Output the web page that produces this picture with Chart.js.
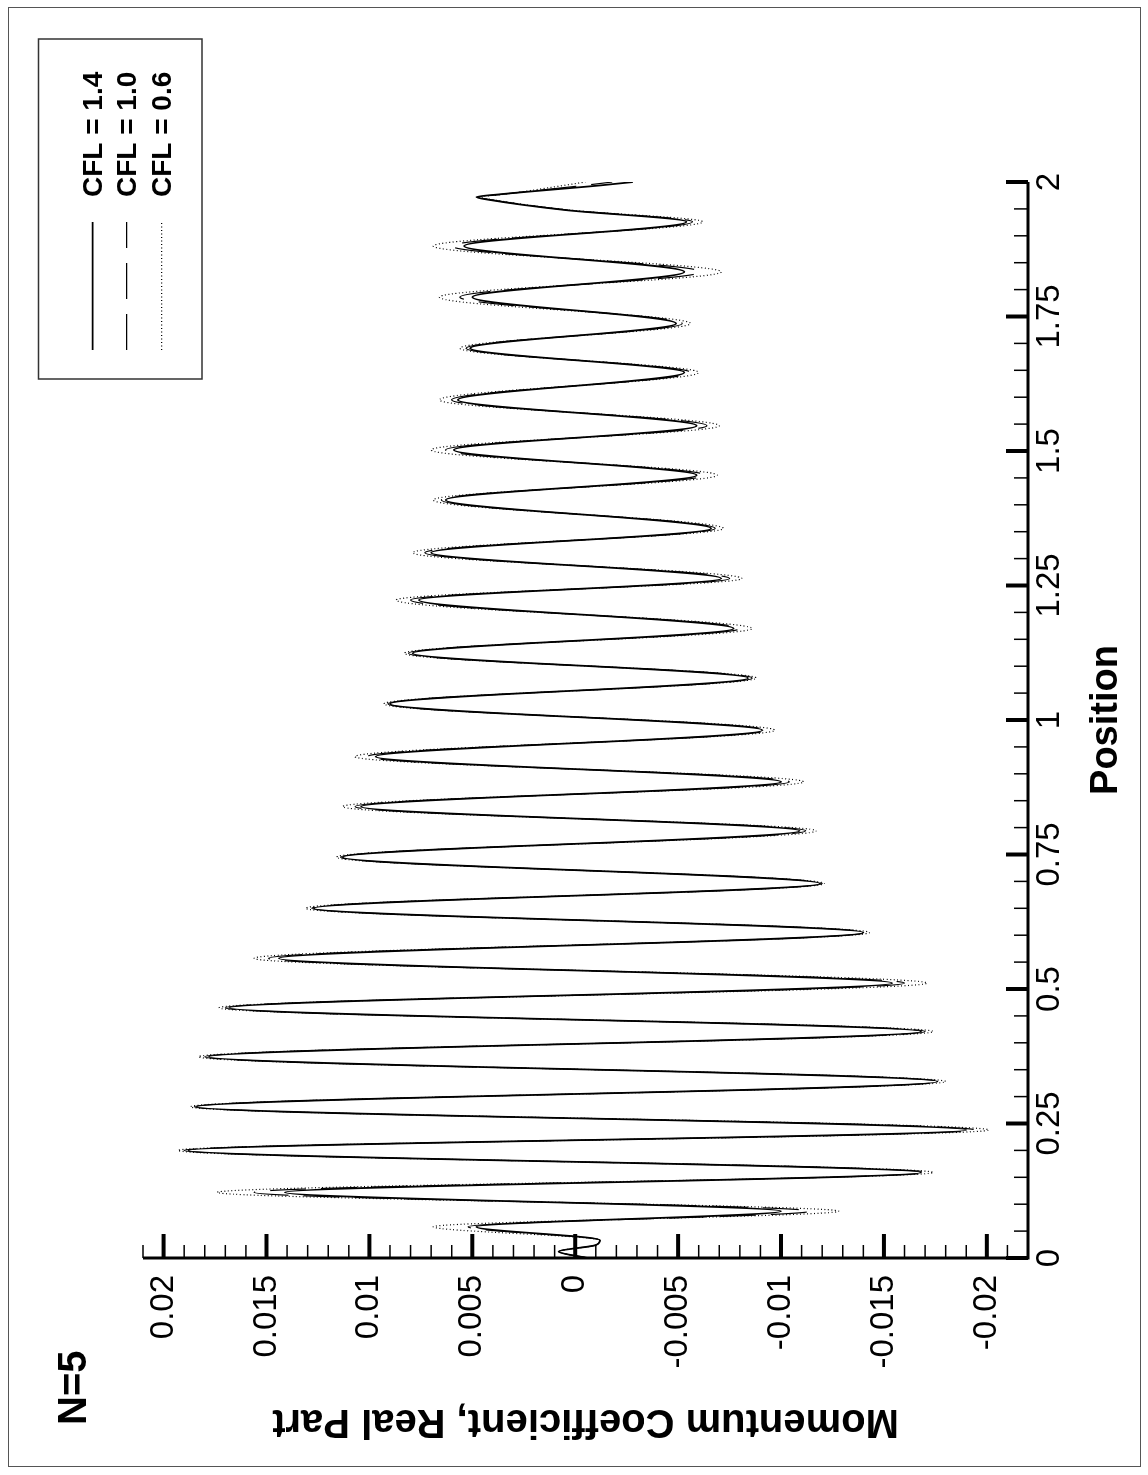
<!DOCTYPE html>
<html>
<head>
<meta charset="utf-8">
<title>N=5 momentum coefficient</title>
<script src="https://cdn.jsdelivr.net/npm/chart.js@4.4.1/dist/chart.umd.min.js"></script>
<style>
  html, body { margin: 0; padding: 0; background: #fff; overflow: hidden; }
  #page { position: relative; width: 1148px; height: 1475px; overflow: hidden; }
  /* the plot is laid out landscape and turned a quarter turn */
  #turn { position: absolute; left: 0; top: 0; width: 1475px; height: 1148px;
          transform-origin: 0 0; transform: translate(0, 1475px) rotate(-90deg); }
</style>
</head>
<body>
<div id="page"><div id="turn"><canvas id="momentumChart" width="1475" height="1148"></canvas></div></div>
<script>
// positions of the samples (peaks and troughs of the wave)
const positions = [0, 0.012, 0.024, 0.033, 0.058, 0.087, 0.122, 0.159, 0.200, 0.238,
  0.281, 0.328, 0.374, 0.421, 0.465, 0.511, 0.557, 0.605, 0.650, 0.696,
  0.745, 0.794, 0.839, 0.885, 0.932, 0.981, 1.030, 1.078, 1.124, 1.170,
  1.223, 1.263, 1.311, 1.356, 1.409, 1.455, 1.502, 1.547, 1.595, 1.646,
  1.691, 1.737, 1.786, 1.833, 1.881, 1.926, 1.948, 1.967, 1.972, 1.977,
  1.994, 2.000];

const cfl14 = [-0.0006, 0.0008, -0.0010, -0.0012, 0.0048, -0.0100, 0.0141, -0.0168, 0.0188, -0.0190,
  0.0184, -0.0176, 0.0178, -0.0168, 0.0168, -0.0154, 0.0144, -0.0140, 0.0127, -0.0119,
  0.0113, -0.0109, 0.0104, -0.0100, 0.0097, -0.0091, 0.0090, -0.0084, 0.0079, -0.0077,
  0.0076, -0.0071, 0.0070, -0.0066, 0.0063, -0.0059, 0.0059, -0.0059, 0.0057, -0.0053,
  0.0051, -0.0049, 0.0050, -0.0053, 0.0054, -0.0054, 0.0005, 0.0042, 0.0048, 0.0037,
  -0.0013, -0.0028];

const cfl10 = [-0.0006, 0.0008, -0.0010, -0.0012, 0.0052, -0.0114, 0.0156, -0.0171, 0.0190, -0.0194,
  0.0185, -0.0177, 0.0180, -0.0170, 0.0170, -0.0160, 0.0149, -0.0141, 0.0128, -0.0120,
  0.0114, -0.0112, 0.0107, -0.0104, 0.0101, -0.0093, 0.0091, -0.0086, 0.0081, -0.0080,
  0.0080, -0.0075, 0.0073, -0.0068, 0.0065, -0.0063, 0.0063, -0.0064, 0.0060, -0.0056,
  0.0053, -0.0052, 0.0056, -0.0061, 0.0060, -0.0057, 0.0004, 0.0041, 0.0047, 0.0036,
  -0.0005, -0.0018];

const cfl06 = [-0.0006, 0.0008, -0.0010, -0.0012, 0.0069, -0.0128, 0.0174, -0.0174, 0.0193, -0.0201,
  0.0187, -0.0180, 0.0183, -0.0174, 0.0173, -0.0171, 0.0156, -0.0143, 0.0131, -0.0121,
  0.0116, -0.0117, 0.0113, -0.0111, 0.0107, -0.0097, 0.0093, -0.0088, 0.0083, -0.0086,
  0.0087, -0.0081, 0.0079, -0.0072, 0.0069, -0.0069, 0.0070, -0.0070, 0.0066, -0.0060,
  0.0056, -0.0056, 0.0066, -0.0071, 0.0069, -0.0062, 0.0003, 0.0040, 0.0046, 0.0035,
  0.0005, -0.0005];

const seriesNames = ['CFL = 1.4', 'CFL = 1.0', 'CFL = 0.6'];

const posTicks = [0, 0.25, 0.5, 0.75, 1, 1.25, 1.5, 1.75, 2];
const posLabels = ['0', '0.25', '0.5', '0.75', '1', '1.25', '1.5', '1.75', '2'];
const valTicks = [-0.02, -0.015, -0.01, -0.005, 0, 0.005, 0.01, 0.015, 0.02];
const valLabels = ['-0.02', '-0.015', '-0.01', '-0.005', '0', '0.005', '0.01', '0.015', '0.02'];

const FONT = '"Liberation Sans", Arial, Helvetica, sans-serif';
const dashStyles = [[], [36, 15], [1, 2.5]];
const lineWidths = [1.8, 1.2, 1.2];

function toPoints(vals) {
  return positions.map((p, i) => ({ x: p, y: vals[i] }));
}

// axis lines, inward ticks, legend box, panel label and outer frame
const framePlugin = {
  id: 'framePlugin',
  afterDraw(chart) {
    const c = chart.ctx;
    const xs = chart.scales.x, ys = chart.scales.y;
    const left = chart.chartArea.left, bottom = chart.chartArea.bottom;
    c.save();

    c.strokeStyle = '#555';
    c.lineWidth = 1;
    c.strokeRect(8.5, 8.5, 1459, 1132);

    c.strokeStyle = '#000';
    c.lineWidth = 3;
    c.beginPath();
    c.moveTo(left, ys.getPixelForValue(0.021));
    c.lineTo(left, bottom + 1.5);
    c.moveTo(left - 1.5, bottom);
    c.lineTo(xs.getPixelForValue(2), bottom);
    c.stroke();

    // position axis ticks
    for (let k = 0; k <= 40; k++) {
      const v = k * 0.05;
      const major = k % 5 === 0;
      const px = xs.getPixelForValue(v);
      c.lineWidth = major ? 4 : 1.5;
      c.beginPath();
      c.moveTo(px, bottom);
      c.lineTo(px, bottom - (major ? 22 : 14));
      c.stroke();
    }
    // value axis ticks
    for (let k = -22; k <= 21; k++) {
      const major = k % 5 === 0;
      const py = ys.getPixelForValue(k / 1000);
      c.lineWidth = major ? 4 : 1.5;
      c.beginPath();
      c.moveTo(left, py);
      c.lineTo(left + (major ? 24 : 13), py);
      c.stroke();
    }

    // legend
    c.strokeStyle = '#333';
    c.lineWidth = 1.5;
    c.strokeRect(1096, 38.5, 340, 163.5);
    const rows = [92.7, 126.7, 161.7];
    c.font = 'bold 28px ' + FONT;
    c.fillStyle = '#000';
    c.textBaseline = 'alphabetic';
    c.textAlign = 'left';
    chart.data.datasets.forEach((ds, i) => {
      c.strokeStyle = '#000';
      c.lineWidth = ds.borderWidth;
      c.setLineDash(ds.borderDash || []);
      c.beginPath();
      c.moveTo(1125, rows[i]);
      c.lineTo(1253, rows[i]);
      c.stroke();
      c.setLineDash([]);
      c.fillText(ds.label, 1278, rows[i] + 9.5);
    });

    c.font = 'bold 40px ' + FONT;
    c.fillText('N=5', 50, 86);
    c.restore();
  }
};

new Chart(document.getElementById('momentumChart'), {
  type: 'line',
  data: {
    datasets: [cfl14, cfl10, cfl06].map((vals, i) => ({
      label: seriesNames[i],
      data: toPoints(vals),
      borderColor: '#000',
      borderWidth: lineWidths[i],
      borderDash: dashStyles[i],
      pointRadius: 0,
      cubicInterpolationMode: 'monotone',
      fill: false
    }))
  },
  options: {
    responsive: false,
    animation: false,
    events: [],
    layout: { padding: { left: 0, right: 182, top: 143, bottom: 0 } },
    plugins: { legend: { display: false }, tooltip: { enabled: false }, title: { display: false } },
    scales: {
      x: {
        type: 'linear', position: 'bottom', min: 0, max: 2,
        afterBuildTicks: s => { s.ticks = posTicks.map(v => ({ value: v })); },
        afterFit: s => { s.height = 120; },
        ticks: {
          callback: (v, i) => posLabels[i],
          font: { family: FONT, size: 33 }, color: '#000',
          padding: 2, maxRotation: 0, minRotation: 0, autoSkip: false
        },
        grid: { display: false, drawTicks: false },
        border: { display: false },
        title: {
          display: true, text: 'Position', color: '#000',
          font: { family: FONT, size: 38, weight: 'bold' },
          padding: { top: 0, bottom: 19 }
        }
      },
      y: {
        type: 'linear', position: 'left', min: -0.022, max: 0.021,
        afterBuildTicks: s => { s.ticks = valTicks.map(v => ({ value: v })); },
        afterFit: s => { s.width = 217; },
        ticks: {
          callback: (v, i) => valLabels[i],
          font: { family: FONT, size: 33 }, color: '#000',
          padding: 17, autoSkip: false
        },
        grid: { display: false, drawTicks: false },
        border: { display: false },
        title: {
          display: true, text: 'Momentum Coefficient, Real Part', color: '#000',
          font: { family: FONT, size: 40, weight: 'bold' },
          padding: { top: 30, bottom: 0 }
        }
      }
    }
  },
  plugins: [framePlugin]
});
</script>
</body>
</html>
